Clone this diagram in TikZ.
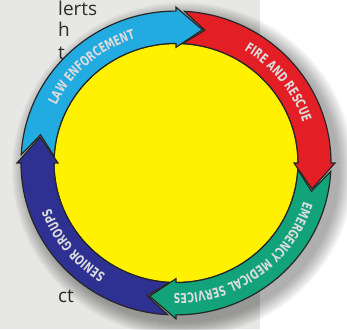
\documentclass[tikz,border=0pt]{standalone}
\usepackage{fontspec}
\setmainfont{Open Sans}
\newfontfamily\ringfont[FakeStretch=0.7]{DejaVu Sans}
\usetikzlibrary{decorations.text}

\definecolor{pagegray}{HTML}{E7E7E5}
\definecolor{lawblue}{HTML}{22ABE0}
\definecolor{firered}{HTML}{E31E25}
\definecolor{emsgreen}{HTML}{12A37A}
\definecolor{seniorblue}{HTML}{2E3192}
\definecolor{hubyellow}{HTML}{FFF100}
\definecolor{bodytext}{HTML}{2B2B2B}
\definecolor{ringtext}{HTML}{DCDCDC}

% one arrow of the ring: fill colour, head angle of the previous arrow, head angle
\newcommand{\ringarrow}[3]{%
  \filldraw[segment, fill=#1] (#2-3.15:155) arc[start angle=#2-3.15, end angle=#3, radius=155]
    -- (#3:159) -- (#3-11:138.5) -- (#3:118) -- (#3:122)
    arc[start angle=#3, end angle=#2-3.15, radius=122] -- (#2-12:138.5) -- cycle;
}
% label on the ring, centred at an angle, read clockwise
\newcommand{\ringlabel}[2]{%
  \path[decorate, decoration={text along path, text align=center, text color=ringtext,
      text={|\ringfont\bfseries\fontsize{13.5}{13.5}\selectfont|#2}}]
    (#1+46:133.5) arc[start angle=#1+46, end angle=#1-46, radius=133.5];
}

\begin{document}
\begin{tikzpicture}[
  x=1pt, y=1pt,
  frag/.style={anchor=base west, inner sep=0pt, text=bodytext, font=\fontsize{19}{22}\selectfont},
  segment/.style={draw=black!85, line width=1.2pt, line join=miter}
]
  \useasboundingbox (0,0) rectangle (347,329);
  \fill[pagegray] (0,0) rectangle (260,329);

  % bits of the page text
  \node[frag] (alerts) at (58,313) {lerts};
  \node[frag] (with) at (58,292) {h};
  \node[frag] (that) at (58,269) {t};
  \node[frag] (direct) at (58,27) {ct};

  \begin{scope}[shift={(176,166)}, yscale=0.98]
    % soft shadow
    \foreach \r in {1,...,16}
      \fill[black, opacity=0.022] (7,-7) circle (155+\r);

    \filldraw[fill=hubyellow, draw=black!85, line width=1.2pt] (0,0) circle (122);

    \ringarrow{lawblue}{180}{90}
    \ringarrow{firered}{90}{0}
    \ringarrow{emsgreen}{0}{-90}
    \ringarrow{seniorblue}{270}{180}

    \ringlabel{131}{LAW ENFORCEMENT}
    \ringlabel{38.5}{FIRE AND RESCUE}
    \ringlabel{-54}{EMERGENCY MEDICAL SERVICES}
    \ringlabel{219}{SENIOR GROUPS}
  \end{scope}
\end{tikzpicture}
\end{document}
